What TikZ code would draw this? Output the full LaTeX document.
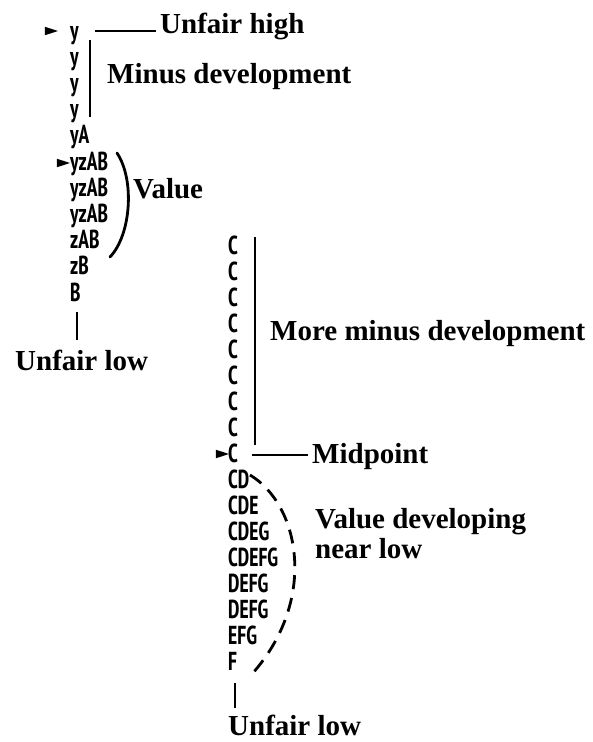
\documentclass[tikz,border=0pt]{standalone}
\usepackage{fontspec}
\usepackage{graphicx}
\setmainfont{Liberation Serif}
\newfontfamily\rowfont{PT Sans Narrow}
\usepackage{tikz}
\usetikzlibrary{shapes.geometric,calc}
\newcommand{\rowtxt}[1]{\scalebox{0.82}[1]{#1}}

\begin{document}
\begin{tikzpicture}[
  x=1pt,y=-1pt,
  row/.style ={anchor=base west,inner sep=0pt,font=\rowfont\bfseries\fontsize{26}{26}\selectfont},
  label/.style ={anchor=base west,inner sep=0pt,align=left,font=\bfseries\fontsize{29}{30}\selectfont},
  pointer/.style ={isosceles triangle,isosceles triangle stretches,fill=black,inner sep=0pt,
                   minimum width=8.5pt,minimum height=13pt},
  lead/.style ={draw=black,line width=1.4pt},
  bar/.style ={draw=black,line width=1.8pt},
  paren/.style ={draw=black,line width=2.8pt,line cap=round},
  dparen/.style ={draw=black,line width=2.8pt,dash pattern=on 14pt off 9pt}
]
\useasboundingbox (0,0) rectangle (593,742);

% first column
\foreach \txt [count=\i] in {y,y,y,y,yA,yzAB,yzAB,yzAB,zAB,zB,B}
  \node[row] (l\i) at (70,{39+26.2*(\i-1)}) {\rowtxt{\txt}};
\node[pointer] (p1) at (48,31) {};
\node[pointer] (p2) at (60,163) {};

% second column
\foreach \txt [count=\i] in {C,C,C,C,C,C,C,C,C,CD,CDE,CDEG,CDEFG,DEFG,DEFG,EFG,F}
  \node[row] (r\i) at (228,{254+26*(\i-1)}) {\rowtxt{\txt}};
\node[pointer] (p3) at (219,454) {};

% labels
\node[label] (uh)  at (160,33)  {Unfair high};
\node[label] (md)  at (107,83)  {Minus development};
\node[label] (val) at (133,198) {Value};
\node[label] (ul1) at (15,370)  {Unfair low};
\node[label] (mmd) at (270,340) {More minus development};
\node[label] (mid) at (312,463) {Midpoint};
\node[label] (vd)  at (315,558) {Value developing\\near low};
\node[label] (ul2) at (228,735) {Unfair low};

% brackets and leaders, first column
\coordinate (hiL) at (95,31);
\draw[lead,shorten >=4pt] (hiL) -- (uh.west |- hiL);
\coordinate (mdT) at (90,40);
\coordinate (mdB) at (90,117);
\draw[bar] (mdT) -- (mdB);
\coordinate (vT) at (117,153);
\coordinate (vB) at (110,257);
\draw[paren] (vT) .. controls (135,180) and (131,235) .. (vB);
\coordinate (lwT) at (77,312);
\draw[bar] (lwT) -- (77,340);

% brackets and leaders, second column
\coordinate (mmT) at (255,237);
\coordinate (mmB) at (255,445);
\draw[lead] (mmT) -- (mmB);
\coordinate (midL) at (252,455);
\draw[lead,shorten >=4pt] (midL) -- (mid.west |- midL);
\coordinate (dvT) at (250,475);
\coordinate (dvB) at (252,674);
\draw[dparen] (dvT) .. controls (300,505) and (318,600) .. (dvB);
\coordinate (lw2T) at (235,683);
\draw[bar] (lw2T) -- (235,708);
\end{tikzpicture}
\end{document}
